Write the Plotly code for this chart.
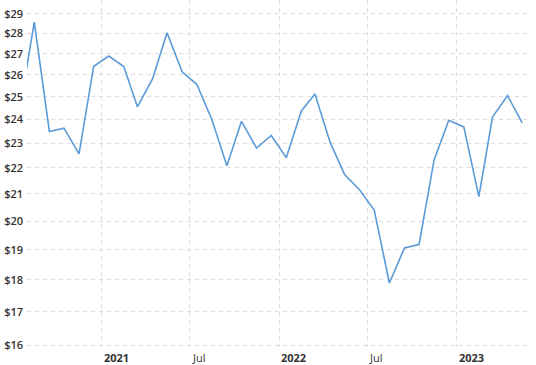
import plotly.graph_objects as go
import math

# Monthly price data (mid-month points)
dates = [
    "2020-07-15", "2020-08-15", "2020-09-15", "2020-10-15", "2020-11-15", "2020-12-15",
    "2021-01-15", "2021-02-15", "2021-03-15", "2021-04-15", "2021-05-15", "2021-06-15",
    "2021-07-15", "2021-08-15", "2021-09-15", "2021-10-15", "2021-11-15", "2021-12-15",
    "2022-01-15", "2022-02-15", "2022-03-15", "2022-04-15", "2022-05-15", "2022-06-15",
    "2022-07-15", "2022-08-15", "2022-09-15", "2022-10-15", "2022-11-15", "2022-12-15",
    "2023-01-15", "2023-02-15", "2023-03-15", "2023-04-15", "2023-05-15",
]
prices = [
    24.30, 28.57, 23.49, 23.63, 22.56, 26.39,
    26.89, 26.39, 24.55, 25.81, 28.03, 26.14,
    25.56, 24.00, 22.09, 23.92, 22.80, 23.32,
    22.41, 24.37, 25.12, 23.04, 21.74, 21.15,
    20.39, 17.90, 19.06, 19.18, 22.32, 23.96,
    23.68, 20.90, 24.10, 25.05, 23.85,
]

y_ticks = [16, 17, 18, 19, 20, 21, 22, 23, 24, 25, 26, 27, 28, 29]
y_tick_labels = ["$" + str(v) for v in y_ticks]

x_ticks = ["2021-01-01", "2021-07-01", "2022-01-01", "2022-07-01", "2023-01-01"]
x_tick_labels = ["2021", "Jul", "2022", "Jul", "2023"]
x_tick_bold = [True, False, True, False, True]

x_range = ["2020-07-31", "2023-05-27"]
y_range = [15.96, 29.73]

FONT = "Open Sans"
GRID = "#dcdcdc"

fig = go.Figure()
fig.add_trace(go.Scatter(
    x=dates, y=prices, mode="lines",
    line=dict(color="#5b9bd9", width=1.6),
    hoverinfo="skip",
))

annotations = []
for xv, txt, bold in zip(x_ticks, x_tick_labels, x_tick_bold):
    annotations.append(dict(
        x=xv, xref="x", y=0, yref="paper",
        xanchor="left", yanchor="top", yshift=-1,
        text=("<b>" + txt + "</b>") if bold else txt,
        showarrow=False,
        font=dict(family=FONT, size=11, color="#333333"),
    ))

fig.update_layout(
    width=536, height=365,
    margin=dict(l=27, r=8, t=0, b=18),
    paper_bgcolor="white", plot_bgcolor="white",
    showlegend=False,
    annotations=annotations,
    xaxis=dict(
        type="date", range=x_range,
        tickvals=x_ticks, showticklabels=False,
        showgrid=True, gridcolor=GRID, griddash="4px,4px", gridwidth=1,
        zeroline=False, showline=False, ticks="",
    ),
    yaxis=dict(
        type="log", range=[math.log10(y_range[0]), math.log10(y_range[1])],
        tickvals=y_ticks, ticktext=y_tick_labels,
        tickfont=dict(family=FONT, size=11, color="#333333", weight=600),
        showgrid=True, gridcolor=GRID, griddash="4px,4px", gridwidth=1,
        zeroline=False, showline=False, ticks="", ticklabelstandoff=3,
    ),
)

fig.write_html("out.html")
